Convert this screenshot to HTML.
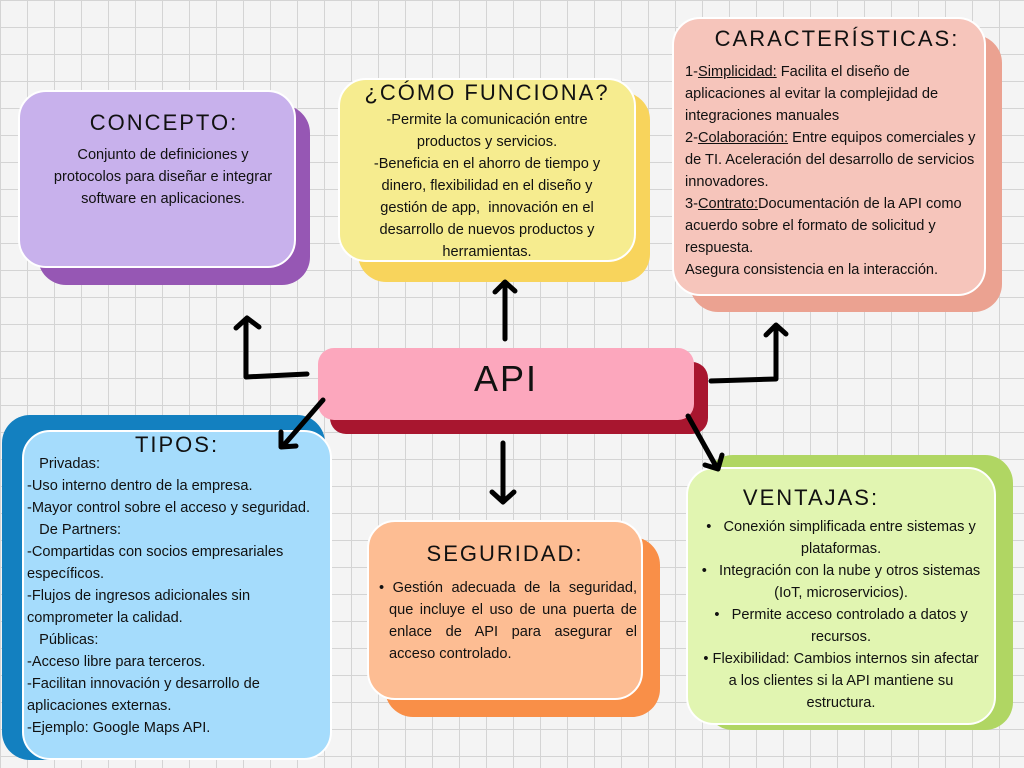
<!DOCTYPE html>
<html><head><meta charset="utf-8"><style>
body{margin:0;width:1024px;height:768px;overflow:hidden;position:relative;font-family:"Liberation Sans",sans-serif;color:#111;
background-color:#f4f4f4;background-image:linear-gradient(#d4d4d4 1px,transparent 1px),linear-gradient(90deg,#d4d4d4 1px,transparent 1px);background-size:27px 27px;}
.b{position:absolute;border-radius:28px;}
.f{border:2px solid #fff;box-sizing:border-box;}
.t{position:absolute;font-size:22px;letter-spacing:2px;text-align:center;}
.x{position:absolute;font-size:14.6px;line-height:22px;white-space:nowrap}
u{text-decoration:underline}
svg{position:absolute;left:0;top:0}
</style></head><body>
<!-- Concepto -->
<div class="b" style="left:38px;top:105px;width:272px;height:180px;background:#9657b4"></div>
<div class="b f" style="left:18px;top:90px;width:278px;height:178px;background:#c8b1ec"></div>
<div class="t" style="left:18px;top:110px;width:292px">CONCEPTO:</div>
<div class="x" style="left:18px;top:144px;width:290px;text-align:center">Conjunto de definiciones y<br>protocolos para diseñar e integrar<br>software en aplicaciones.</div>
<!-- Como funciona -->
<div class="b" style="left:358px;top:92px;width:292px;height:190px;background:#f8d45c"></div>
<div class="b f" style="left:338px;top:78px;width:298px;height:184px;background:#f6ec8f"></div>
<div class="t" style="left:338px;top:80px;width:298px">¿CÓMO FUNCIONA?</div>
<div class="x" style="left:338px;top:109px;width:298px;text-align:center">-Permite la comunicación entre<br>productos y servicios.<br>-Beneficia en el ahorro de tiempo y<br>dinero, flexibilidad en el diseño y<br>gestión de app, &nbsp;innovación en el<br>desarrollo de nuevos productos y<br>herramientas.</div>
<!-- Caracteristicas -->
<div class="b" style="left:690px;top:35px;width:312px;height:277px;background:#eba291"></div>
<div class="b f" style="left:672px;top:17px;width:314px;height:279px;background:#f6c5bb"></div>
<div class="t" style="left:672px;top:26px;width:330px">CARACTERÍSTICAS:</div>
<div class="x" style="left:685px;top:61px;width:300px">1-<u>Simplicidad:</u> Facilita el diseño de<br>aplicaciones al evitar la complejidad de<br>integraciones manuales<br>2-<u>Colaboración:</u> Entre equipos comerciales y<br>de TI. Aceleración del desarrollo de servicios<br>innovadores.<br>3-<u>Contrato:</u>Documentación de la API como<br>acuerdo sobre el formato de solicitud y<br>respuesta.<br>Asegura consistencia en la interacción.</div>
<!-- API -->
<div class="b" style="left:330px;top:362px;width:378px;height:72px;background:#a8162f;border-radius:16px"></div>
<div class="b" style="left:318px;top:348px;width:376px;height:72px;background:#fca7bd;border-radius:16px"></div>
<div class="t" style="left:318px;top:358px;width:376px;font-size:36px">API</div>
<!-- Tipos -->
<div class="b" style="left:2px;top:415px;width:323px;height:345px;background:#1380c0"></div>
<div class="b f" style="left:22px;top:430px;width:310px;height:330px;background:#a5dcfc"></div>
<div class="t" style="left:22px;top:432px;width:310px">TIPOS:</div>
<div class="x" style="left:27px;top:453px;width:300px">&nbsp;&nbsp;&nbsp;Privadas:<br>-Uso interno dentro de la empresa.<br>-Mayor control sobre el acceso y seguridad.<br>&nbsp;&nbsp;&nbsp;De Partners:<br>-Compartidas con socios empresariales<br>específicos.<br>-Flujos de ingresos adicionales sin<br>comprometer la calidad.<br>&nbsp;&nbsp;&nbsp;Públicas:<br>-Acceso libre para terceros.<br>-Facilitan innovación y desarrollo de<br>aplicaciones externas.<br>-Ejemplo: Google Maps API.</div>
<!-- Seguridad -->
<div class="b" style="left:385px;top:537px;width:275px;height:180px;background:#f98f48"></div>
<div class="b f" style="left:367px;top:520px;width:276px;height:180px;background:#fdbd93"></div>
<div class="t" style="left:367px;top:541px;width:276px">SEGURIDAD:</div>
<div class="x" style="left:375px;top:577px;width:262px;white-space:normal;text-align:justify;padding-left:14px;box-sizing:border-box;text-indent:-10px">• Gestión adecuada de la seguridad, que incluye el uso de una puerta de enlace de API para asegurar el acceso controlado.</div>
<!-- Ventajas -->
<div class="b" style="left:705px;top:455px;width:308px;height:275px;background:#b0d663"></div>
<div class="b f" style="left:686px;top:467px;width:310px;height:258px;background:#e1f5b1"></div>
<div class="t" style="left:686px;top:485px;width:250px">VENTAJAS:</div>
<div class="x" style="left:688px;top:516px;width:306px;text-align:center">•&nbsp;&nbsp; Conexión simplificada entre sistemas y<br>plataformas.<br>•&nbsp;&nbsp; Integración con la nube y otros sistemas<br>(IoT, microservicios).<br>•&nbsp;&nbsp; Permite acceso controlado a datos y<br>recursos.<br>• Flexibilidad: Cambios internos sin afectar<br>a los clientes si la API mantiene su<br>estructura.</div>
<svg width="1024" height="768" fill="none" stroke="#000" stroke-width="5" stroke-linecap="round" stroke-linejoin="round">
<path d="M307 374 L246 377 L246 320 M236 328 L247 318 L259 327"/>
<path d="M505 339 L505 283 M495 292 L505 282 L515 291"/>
<path d="M711 381 L776 379 L776 326 M766 335 L776 325 L786 334"/>
<path d="M323 400 L283 446 M281 432 L281 447 L296 446"/>
<path d="M503 443 L503 500 M492 492 L503 502 L514 492"/>
<path d="M688 416 L717 468 M705 465 L718 469 L722 455"/>
</svg>
</body></html>
